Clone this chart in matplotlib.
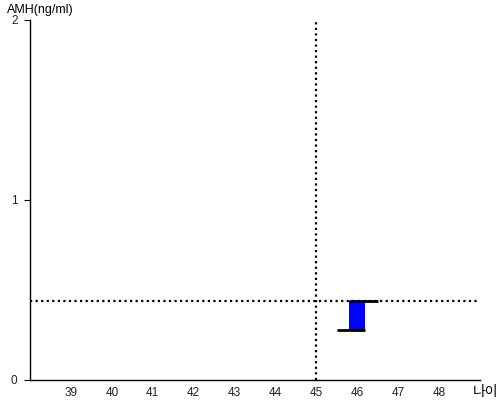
import matplotlib
matplotlib.use("Agg")
import matplotlib.pyplot as plt

plt.rcParams['font.family'] = ['Liberation Sans', 'Noto Sans CJK KR', 'DejaVu Sans']

# data
age_ticks = [39, 40, 41, 42, 43, 44, 45, 46, 47, 48]
y_ticks = [0, 1, 2]
current_age = 45
ref_amh = 0.44
bar_age = 46
bar_low = 0.28
bar_high = 0.44
low_line = (45.5, 46.2)
high_line = (45.8, 46.5)

fig = plt.figure(figsize=(5, 4), dpi=100)
ax = fig.add_axes([0.06, 0.05, 0.9, 0.9])

ax.set_xlim(38, 49)
ax.set_ylim(0, 2)

ax.axvline(current_age, color="black", linestyle=(0, (1, 1.5)), linewidth=1.6)
ax.axhline(ref_amh, color="black", linestyle=(0, (1, 1.5)), linewidth=1.6)

ax.bar(bar_age, bar_high - bar_low, bottom=bar_low, width=0.4, color="#0000ff")
ax.hlines(bar_low, low_line[0], low_line[1], color="black", linewidth=2)
ax.hlines(bar_high, high_line[0], high_line[1], color="black", linewidth=2)

for s in ["top", "right"]:
    ax.spines[s].set_visible(False)
ax.spines["left"].set_linewidth(1.0)
ax.spines["bottom"].set_linewidth(1.0)

ax.set_xticks(age_ticks)
ax.set_xticklabels([str(a) for a in age_ticks], fontsize=8.5, color="#222222")
ax.tick_params(axis="x", length=0, pad=5)
ax.set_yticks(y_ticks)
ax.set_yticklabels([str(v) for v in y_ticks], fontsize=8.5, color="#222222")
ax.tick_params(axis="y", length=4, pad=5)

fig.text(0.014, 0.975, "AMH(ng/ml)", fontsize=9, va="center", ha="left")
fig.text(0.972, 0.02, "나이", fontsize=10, va="center", ha="center",
         family=['Noto Sans CJK KR', 'DejaVu Sans'])

fig.savefig("out.png", dpi=100)
